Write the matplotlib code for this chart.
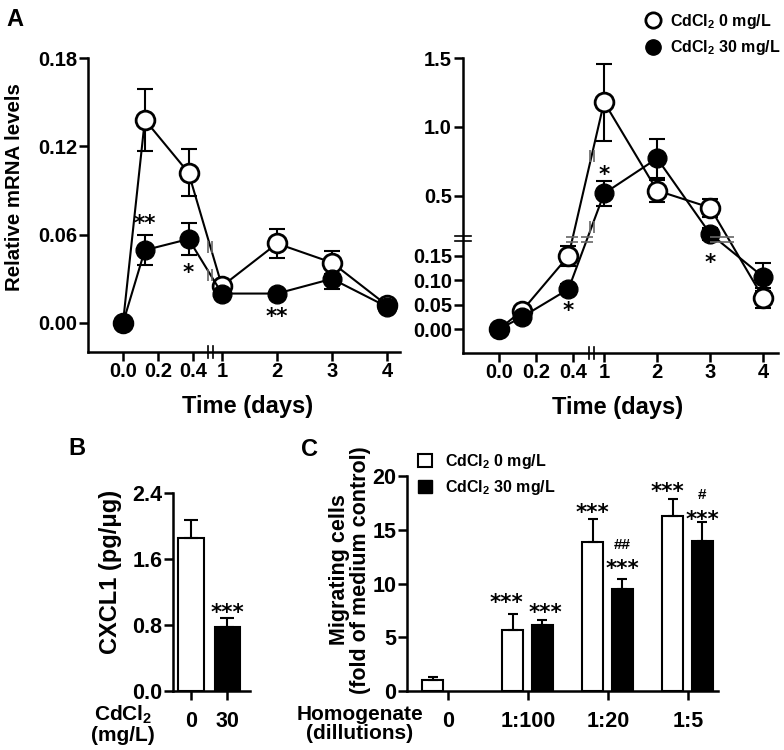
import numpy as np
import matplotlib
matplotlib.use('Agg')
import matplotlib.pyplot as plt
import matplotlib.transforms as mtransforms
from matplotlib.lines import Line2D
from matplotlib.patches import Patch
from matplotlib.path import Path

plt.rcParams['font.family'] = ['Liberation Sans', 'DejaVu Sans']
plt.rcParams['font.weight'] = 'bold'
plt.rcParams['axes.labelweight'] = 'bold'
plt.rcParams['mathtext.default'] = 'regular'
plt.rcParams['axes.linewidth'] = 1.8

# ---- data ----
days = [0, 0.125, 0.375, 1, 2, 3, 4]
day_ticks = [0, 0.2, 0.4, 1, 2, 3, 4]
day_labels = ['0.0', '0.2', '0.4', '1', '2', '3', '4']

# panel A, left gene
left_ctrl = [0, 0.138, 0.102, 0.025, 0.054, 0.041, 0.012]
left_ctrl_sem = [0, 0.021, 0.016, 0.003, 0.010, 0.008, 0.002]
left_cd = [0, 0.0495, 0.057, 0.020, 0.020, 0.030, 0.011]
left_cd_sem = [0, 0.010, 0.011, 0.002, 0.002, 0.007, 0.002]

# panel A, right gene
right_ctrl = [0, 0.038, 0.150, 1.18, 0.536, 0.412, 0.064]
right_ctrl_sem = [0, 0.004, 0.020, 0.28, 0.08, 0.065, 0.020]
right_cd = [0, 0.025, 0.082, 0.515, 0.77, 0.222, 0.107]
right_cd_sem = [0, 0.004, 0.010, 0.09, 0.14, 0.04, 0.028]

# panel B
cd_doses = ['0', '30']
cxcl1 = [1.85, 0.77]
cxcl1_sem = [0.22, 0.11]

# panel C
dilutions = ['0', '1:100', '1:20', '1:5']
mig_ctrl = [1.0, 5.7, 13.9, 16.3]
mig_ctrl_sem = [0.3, 1.5, 2.1, 1.6]
mig_cd = [6.1, 9.5, 14.0]          # no CdCl2 bar for undiluted medium (0)
mig_cd_sem = [0.5, 0.9, 1.7]

legend_labels = ['CdCl$_2$ 0 mg/L', 'CdCl$_2$ 30 mg/L']

STAR_FONT = dict(family='DejaVu Sans', fontsize=15.5, fontweight='bold')
LW = 1.5

# small "||" and "=" glyphs used where a line crosses an axis break
VBARS = Path([(-0.4, -1), (-0.4, 1), (0.4, -1), (0.4, 1)],
             [Path.MOVETO, Path.LINETO, Path.MOVETO, Path.LINETO])
HBARS = Path([(-1, -0.4), (1, -0.4), (-1, 0.4), (1, 0.4)],
             [Path.MOVETO, Path.LINETO, Path.MOVETO, Path.LINETO])


def piecewise(xp, fp):
    xp = np.asarray(xp, float)
    fp = np.asarray(fp, float)
    return (lambda v: np.interp(v, xp, fp)), (lambda v: np.interp(v, fp, xp))


def time_scale(k, p1, tb=0.5):
    # first segment (0-0.5 d) stretched by k, then gap, then 1 unit per day
    ts = 1 - (p1 - k * tb)
    return tb, piecewise([-1, tb, ts, 8], [-k, k * tb, k * tb + 1e-4, p1 + 7])


def style(ax, tick_size, xpad, ypad):
    ax.spines['top'].set_visible(False)
    ax.spines['right'].set_visible(False)
    ax.tick_params(width=1.8, length=6.5, labelsize=tick_size, direction='out')
    ax.tick_params(axis='x', pad=xpad)
    ax.tick_params(axis='y', pad=ypad)


def break_marks(ax, xfun, yfun, tb, yb, series):
    fx, fxi = xfun
    fy, fyi = yfun
    xb = fx(tb)
    ybp = fy(yb) if yb is not None else None
    for ys in series:
        for i in range(len(days) - 1):
            X0, X1 = fx(days[i]), fx(days[i + 1])
            Y0, Y1 = fy(ys[i]), fy(ys[i + 1])
            if X0 < xb < X1:
                f = (xb - X0) / (X1 - X0)
                ax.plot([tb], [fyi(Y0 + f * (Y1 - Y0))], ls='none', marker=VBARS,
                        ms=8, mew=1.2, mfc='none', mec='0.4', zorder=5)
            if ybp is not None and (Y0 - ybp) * (Y1 - ybp) < 0:
                f = (ybp - Y0) / (Y1 - Y0)
                ax.plot([fxi(X0 + f * (X1 - X0))], [yb], ls='none', marker=HBARS,
                        ms=9, mew=1.2, mfc='none', mec='0.4', zorder=5)


def time_panel(ax, ctrl, ctrl_sem, cd, cd_sem, xfun, tb, xlim):
    ax.set_xscale('function', functions=xfun)
    ax.errorbar(days, ctrl, yerr=ctrl_sem, fmt='none', ecolor='black', elinewidth=LW,
                capsize=6, capthick=LW, zorder=1)
    ax.errorbar(days, cd, yerr=cd_sem, fmt='none', ecolor='black', elinewidth=LW,
                capsize=6, capthick=LW, zorder=1)
    ax.plot(days, ctrl, '-o', color='black', lw=LW, ms=13.5, mfc='white', mec='black',
            mew=2, zorder=3, clip_on=False)
    ax.plot(days, cd, '-o', color='black', lw=LW, ms=13.5, mfc='black', mec='black',
            zorder=4, clip_on=False)
    ax.set_xlim(*xlim)
    ax.set_xticks(day_ticks)
    ax.set_xticklabels(day_labels)
    # axis break "||" on the x spine
    for dx in (-2.5, 2.5):
        tr = ax.get_xaxis_transform() + mtransforms.ScaledTranslation(dx / 100, 0, ax.figure.dpi_scale_trans)
        ax.plot([tb, tb], [-0.02, 0.02], color='black', lw=1.2, transform=tr, clip_on=False)


def star(ax, text, x, y, dy, dx=0, **kw):
    font = dict(STAR_FONT)
    font.update(kw)
    ax.annotate(text, (x, y), xytext=(dx, dy), textcoords='offset points',
                ha='center', va='center', **font)


fig = plt.figure(figsize=(7.84, 7.5), dpi=100)

# ---------------- panel A left ----------------
axL = fig.add_axes([88 / 784, 1 - 352 / 750, 312 / 784, 294 / 750])
tbL, xfunL = time_scale(3.18, 1.8)
time_panel(axL, left_ctrl, left_ctrl_sem, left_cd, left_cd_sem, xfunL, tbL, (-0.2, 4.236))
axL.set_ylim(-0.0197, 0.18)
axL.set_yticks([0, 0.06, 0.12, 0.18])
axL.set_yticklabels(['0.00', '0.06', '0.12', '0.18'])
style(axL, 14.5, 1, 1.5)
axL.set_ylabel('Relative mRNA levels', fontsize=14.7)
axL.yaxis.set_label_coords(-0.205, 0.56)
axL.set_xlabel('Time (days)', fontsize=17)
axL.xaxis.set_label_coords(0.51, -0.145)
break_marks(axL, xfunL, (lambda v: v, lambda v: v), tbL, None, [left_ctrl, left_cd])
star(axL, '**', days[1], left_cd[1] + left_cd_sem[1], 8.2)
star(axL, '*', days[2], left_cd[2] - left_cd_sem[2], -12.7)
star(axL, '**', days[4], left_cd[4], -17)

# ---------------- panel A right ----------------
axR = fig.add_axes([463 / 784, 1 - 353 / 750, 315 / 784, 295 / 750])
tbR, xfunR = time_scale(3.49, 1.98)
yb = 0.185
yfunR = piecewise([-1, yb, 3], [-3.547, 3.547 * yb, 3.547 * yb + 3 - yb])
axR.set_yscale('function', functions=yfunR)
time_panel(axR, right_ctrl, right_ctrl_sem, right_cd, right_cd_sem, xfunR, tbR, (-0.195, 4.28))
axR.set_ylim(-0.049, 1.5)
axR.set_yticks([0, 0.05, 0.10, 0.15, 0.5, 1.0, 1.5])
axR.set_yticklabels(['0.00', '0.05', '0.10', '0.15', '0.5', '1.0', '1.5'])
style(axR, 14.5, 1, 1.5)
axR.set_xlabel('Time (days)', fontsize=17)
axR.xaxis.set_label_coords(0.49, -0.145)
for dy in (-2.5, 2.5):
    tr = axR.get_yaxis_transform() + mtransforms.ScaledTranslation(0, dy / 100, fig.dpi_scale_trans)
    axR.plot([-0.025, 0.025], [yb, yb], color='black', lw=1.2, transform=tr, clip_on=False)
break_marks(axR, xfunR, yfunR, tbR, yb, [right_ctrl, right_cd])
star(axR, '*', days[2], right_cd[2], -15.5)
star(axR, '*', days[3], right_cd[3] + right_cd_sem[3], 4.6)
star(axR, '*', days[5], right_cd[5], -21.3)

handles = [Line2D([], [], ls='none', marker='o', ms=11, mfc='white', mec='black', mew=2),
           Line2D([], [], ls='none', marker='o', ms=11, mfc='black', mec='black')]
fig.legend(handles, legend_labels, loc='upper left', bbox_to_anchor=(645 / 784, 1 - 12 / 750),
           frameon=False, fontsize=11.5, handlelength=1.0, handletextpad=0.55,
           labelspacing=0.45, borderpad=0, borderaxespad=0)

# ---------------- panel B ----------------
axB = fig.add_axes([173 / 784, 1 - 691 / 750, 77 / 784, 198 / 750])
xb_pos = np.arange(len(cd_doses))
axB.bar(xb_pos, cxcl1, width=0.7, color=['white', 'black'], edgecolor='black', lw=LW,
        yerr=[np.zeros(len(cxcl1)), cxcl1_sem], capsize=5,
        error_kw=dict(elinewidth=LW, capthick=LW, ecolor='black'))
axB.set_xlim(-0.49, 1.62)
axB.set_ylim(0, 2.4)
axB.set_xticks(xb_pos)
axB.set_xticklabels(cd_doses)
axB.set_yticks([0, 0.8, 1.6, 2.4])
axB.set_yticklabels(['0.0', '0.8', '1.6', '2.4'])
style(axB, 15.5, 8, 1)
axB.set_ylabel('CXCL1 (pg/μg)', fontsize=17)
axB.yaxis.set_label_coords(-0.66, 0.6)
axB.text(-0.65, -0.168, 'CdCl$_2$\n(mg/L)', transform=axB.transAxes, ha='center', va='center',
         fontsize=15, linespacing=1.05)
star(axB, '***', xb_pos[1], cxcl1[1] + cxcl1_sem[1], 3.9)

# ---------------- panel C ----------------
axC = fig.add_axes([407 / 784, 1 - 691 / 750, 311 / 784, 215 / 750])
xc = np.arange(len(dilutions))
off_o, off_c, w = -0.19, 0.18, 0.26
axC.bar(xc + off_o, mig_ctrl, width=w, color='white', edgecolor='black', lw=LW,
        yerr=[np.zeros(len(mig_ctrl)), mig_ctrl_sem], capsize=3.8,
        error_kw=dict(elinewidth=LW, capthick=LW, ecolor='black'))
axC.bar(xc[1:] + off_c, mig_cd, width=w, color='black', edgecolor='black', lw=LW,
        yerr=[np.zeros(len(mig_cd)), mig_cd_sem], capsize=3.8,
        error_kw=dict(elinewidth=LW, capthick=LW, ecolor='black'))
axC.set_xlim(-0.51, 3.375)
axC.set_ylim(0, 20)
axC.set_xticks(xc)
axC.set_xticklabels(dilutions)
axC.set_yticks([0, 5, 10, 15, 20])
style(axC, 15.5, 8, 1)
axC.set_ylabel('Migrating cells\n(fold of medium control)', fontsize=15.5, linespacing=1.0)
axC.yaxis.set_label_coords(-0.115, 0.563)
axC.text(-0.151, -0.155, 'Homogenate\n(dillutions)', transform=axC.transAxes, ha='center',
         va='center', fontsize=15, linespacing=1.0)
c_top = np.array(mig_ctrl) + np.array(mig_ctrl_sem)
d_top = np.array(mig_cd) + np.array(mig_cd_sem)
for g, dy, dx in zip([1, 2, 3], [7.5, 4.6, 4.6], [-4.5, 0, -3.5]):
    star(axC, '***', xc[g] + off_o, c_top[g], dy, dx)
for g, dy, dx in zip([1, 2, 3], [5.3, 7.5, 1.7], [2.5, 0, 0]):
    star(axC, '***', xc[g] + off_c, d_top[g - 1], dy, dx)
star(axC, '##', xc[2] + off_c, d_top[1], 24.5, family='Liberation Sans', fontsize=11, fontweight='bold')
star(axC, '#', xc[3] + off_c, d_top[2], 19.4, family='Liberation Sans', fontsize=11, fontweight='bold')
axC.legend([Patch(facecolor='white', edgecolor='black', lw=LW), Patch(facecolor='black', edgecolor='black')],
           legend_labels, loc='upper left', bbox_to_anchor=(0.035, 1.112), frameon=False,
           fontsize=11.5, handlelength=0.9, handleheight=0.9, handletextpad=0.8,
           labelspacing=0.45, borderpad=0, borderaxespad=0)

# panel letters
fig.text(15 / 784, 1 - 26.5 / 750, 'A', fontsize=17, ha='center', va='baseline')
fig.text(77 / 784, 1 - 455.5 / 750, 'B', fontsize=17, ha='center', va='baseline')
fig.text(310 / 784, 1 - 456.5 / 750, 'C', fontsize=17, ha='center', va='baseline')

fig.savefig('out.png', dpi=100)
